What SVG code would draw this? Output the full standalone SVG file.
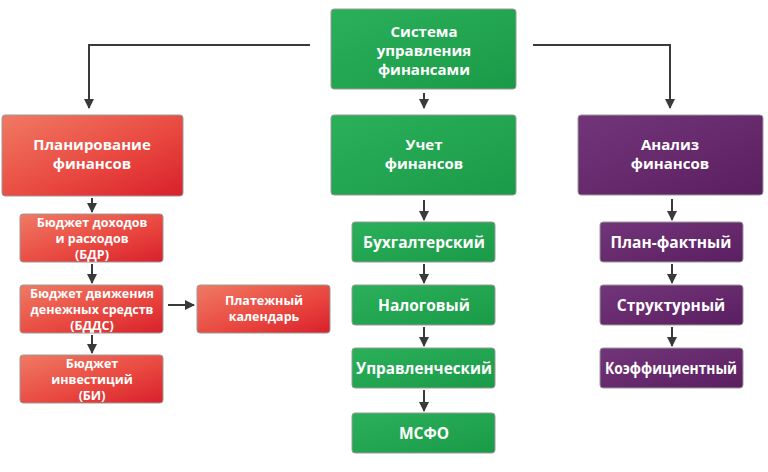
<svg xmlns="http://www.w3.org/2000/svg" width="768" height="472" viewBox="0 0 768 472">
<defs>
<linearGradient id="gGreen" x1="0" y1="0" x2="1" y2="1">
<stop offset="0" stop-color="#2bb05a"/><stop offset="1" stop-color="#1a9a48"/>
</linearGradient>
<linearGradient id="gRed" x1="0" y1="0" x2="1" y2="1">
<stop offset="0" stop-color="#f07a64"/><stop offset="0.6" stop-color="#e8453e"/><stop offset="1" stop-color="#d8202c"/>
</linearGradient>
<linearGradient id="gPurple" x1="0" y1="0" x2="1" y2="1">
<stop offset="0" stop-color="#73357a"/><stop offset="1" stop-color="#5a1f60"/>
</linearGradient>
<marker id="arr" viewBox="0 0 10 10" refX="9" refY="5" markerWidth="10" markerHeight="10" markerUnits="userSpaceOnUse" orient="auto">
<path d="M0,0 L10,5 L0,10 z" fill="#3a3a3a"/>
</marker>
</defs>
<style>
.box{stroke:#9a9a9a;stroke-width:1}
.green{fill:url(#gGreen)}
.red{fill:url(#gRed)}
.purple{fill:url(#gPurple)}
text{font-family:"Open Sans","DejaVu Sans",sans-serif;font-weight:bold;fill:#ffffff;text-anchor:middle}
.big{font-size:15px}
.mid{font-size:15.5px}
.sm{font-size:12.5px}
.conn{stroke:#3a3a3a;stroke-width:2;fill:none}
</style>
<rect width="768" height="472" fill="#ffffff"/>
<g id="connectors">
<path class="conn" d="M310,45 H89 V108" marker-end="url(#arr)"/>
<path class="conn" d="M533,45 H670 V108" marker-end="url(#arr)"/>
<path class="conn" d="M424,93 V108" marker-end="url(#arr)"/>
<path class="conn" d="M92,198 V212" marker-end="url(#arr)"/>
<path class="conn" d="M92,264 V283" marker-end="url(#arr)"/>
<path class="conn" d="M92,335 V353" marker-end="url(#arr)"/>
<path class="conn" d="M168,305 H194" marker-end="url(#arr)"/>
<path class="conn" d="M424,200 V220" marker-end="url(#arr)"/>
<path class="conn" d="M424,264 V283" marker-end="url(#arr)"/>
<path class="conn" d="M424,327 V346" marker-end="url(#arr)"/>
<path class="conn" d="M424,390 V411" marker-end="url(#arr)"/>
<path class="conn" d="M672,199 V220" marker-end="url(#arr)"/>
<path class="conn" d="M672,264 V283" marker-end="url(#arr)"/>
<path class="conn" d="M672,327 V346" marker-end="url(#arr)"/>
</g>
<g id="system">
<rect class="box green" x="331" y="9" width="185" height="80" rx="3"/>
<text class="big" x="424" y="37">Система</text>
<text class="big" x="424" y="56">управления</text>
<text class="big" x="424" y="75">финансами</text>
</g>
<g id="planning">
<rect class="box red" x="2" y="115" width="181" height="81" rx="3"/>
<text class="big" x="92" y="150">Планирование</text>
<text class="big" x="92" y="169">финансов</text>
</g>
<g id="accounting">
<rect class="box green" x="331" y="115" width="185" height="80" rx="3"/>
<text class="big" x="424" y="150">Учет</text>
<text class="big" x="424" y="169">финансов</text>
</g>
<g id="analysis">
<rect class="box purple" x="578" y="115" width="185" height="80" rx="3"/>
<text class="big" x="670" y="150">Анализ</text>
<text class="big" x="670" y="169">финансов</text>
</g>
<g id="bdr">
<rect class="box red" x="20" y="214" width="143" height="48" rx="3"/>
<text class="sm" x="92" y="227">Бюджет доходов</text>
<text class="sm" x="92" y="243">и расходов</text>
<text class="sm" x="92" y="259">(БДР)</text>
</g>
<g id="bdds">
<rect class="box red" x="20" y="285" width="143" height="48" rx="3"/>
<text class="sm" x="92" y="298">Бюджет движения</text>
<text class="sm" x="92" y="314">денежных средств</text>
<text class="sm" x="92" y="330">(БДДС)</text>
</g>
<g id="bi">
<rect class="box red" x="20" y="355" width="143" height="48" rx="3"/>
<text class="sm" x="92" y="368">Бюджет</text>
<text class="sm" x="92" y="384">инвестиций</text>
<text class="sm" x="92" y="400">(БИ)</text>
</g>
<g id="calendar">
<rect class="box red" x="197" y="285" width="133" height="48" rx="3"/>
<text class="sm" x="264" y="305">Платежный</text>
<text class="sm" x="264" y="321">календарь</text>
</g>
<g id="buh">
<rect class="box green" x="352" y="222" width="143" height="40" rx="3"/>
<text class="mid" x="424" y="248">Бухгалтерский</text>
</g>
<g id="nal">
<rect class="box green" x="352" y="285" width="143" height="40" rx="3"/>
<text class="mid" x="424" y="311">Налоговый</text>
</g>
<g id="upr">
<rect class="box green" x="352" y="348" width="143" height="40" rx="3"/>
<text class="mid" x="424" y="374" textLength="136" lengthAdjust="spacingAndGlyphs">Управленческий</text>
</g>
<g id="msfo">
<rect class="box green" x="352" y="413" width="143" height="40" rx="3"/>
<text class="mid" x="424" y="439">МСФО</text>
</g>
<g id="planfact">
<rect class="box purple" x="600" y="222" width="143" height="40" rx="3"/>
<text class="mid" x="671" y="248">План-фактный</text>
</g>
<g id="struct">
<rect class="box purple" x="600" y="285" width="143" height="40" rx="3"/>
<text class="mid" x="671" y="311">Структурный</text>
</g>
<g id="coef">
<rect class="box purple" x="600" y="348" width="143" height="40" rx="3"/>
<text class="mid" x="671" y="374" textLength="132" lengthAdjust="spacingAndGlyphs">Коэффициентный</text>
</g>
</svg>
